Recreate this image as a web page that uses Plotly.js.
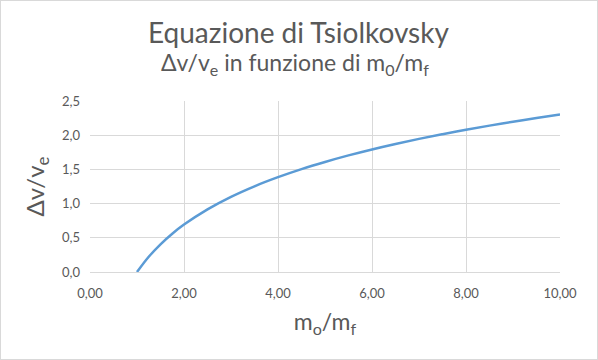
<!DOCTYPE html>
<html><head><meta charset="utf-8">
<script src="https://cdn.plot.ly/plotly-3.0.1.min.js"></script>
<style>html,body{margin:0;padding:0;background:#fff}#c{width:598px;height:360px;box-sizing:border-box;border:1.5px solid #d9d9d9}</style>
</head><body><div id="c"></div>
<script>
const massRatio = [1.0, 1.25, 1.5, 1.75, 2.0, 2.5, 3.0, 3.5, 4.0, 4.5, 5.0, 5.5, 6.0, 6.5, 7.0, 7.5, 8.0, 8.5, 9.0, 9.5, 10.0];
const dvRatio  = [0.0, 0.223, 0.405, 0.560, 0.693, 0.916, 1.099, 1.253, 1.386, 1.504, 1.609, 1.705, 1.792, 1.872, 1.946, 2.015, 2.079, 2.140, 2.197, 2.251, 2.303];
const xTicks = [0, 2, 4, 6, 8, 10];
const xTickText = ['0,00', '2,00', '4,00', '6,00', '8,00', '10,00'];
const yTicks = [0, 0.5, 1, 1.5, 2, 2.5];
const yTickText = ['0,0', '0,5', '1,0', '1,5', '2,0', '2,5'];

const font = 'Lato, "Open Sans", sans-serif';
const grey = '#595959';
const L = 89, R = 36, W = 595;
const cx = (W / 2 - L) / (W - L - R);
Plotly.newPlot('c', [{
  x: massRatio, y: dvRatio, type: 'scatter', mode: 'lines',
  line: {color: '#5B9BD5', width: 2.5, shape: 'spline'}, hoverinfo: 'skip'
}], {
  width: 595, height: 357,
  margin: {l: L, r: R, t: 100, b: 86},
  paper_bgcolor: '#fff', plot_bgcolor: '#fff',
  showlegend: false,
  font: {family: font, color: grey},
  xaxis: {range: [0, 10], tickvals: xTicks, ticktext: xTickText, showgrid: true, gridcolor: '#d9d9d9',
    zeroline: false, showline: true, linecolor: '#d9d9d9', ticks: '', tickfont: {size: 13, color: grey},
    ticklabelstandoff: 9,
    title: {text: 'm<sub>o</sub>/m<sub>f</sub>', font: {size: 23, color: grey}, standoff: 14}},
  yaxis: {range: [0, 2.5], tickvals: yTicks, ticktext: yTickText, showgrid: true, gridcolor: '#d9d9d9',
    zeroline: false, showline: false, ticks: '', tickfont: {size: 13, color: grey},
    ticklabelstandoff: 9,
    title: {text: 'Δv/v<sub>e</sub>', font: {size: 24, color: grey}, standoff: 10}},
  annotations: [
    {text: 'Equazione di Tsiolkovsky', xref: 'paper', yref: 'paper', x: cx, y: 1, yshift: 69, xanchor: 'center', yanchor: 'middle', showarrow: false, font: {size: 28, color: grey}},
    {text: 'Δv/v<sub>e</sub> in funzione di m<sub>0</sub>/m<sub>f</sub>', xref: 'paper', yref: 'paper', x: cx, xshift: -4, y: 1, yshift: 38, xanchor: 'center', yanchor: 'middle', showarrow: false, font: {size: 23, color: grey}}
  ]
}, {displayModeBar: false, staticPlot: true});
</script></body></html>
